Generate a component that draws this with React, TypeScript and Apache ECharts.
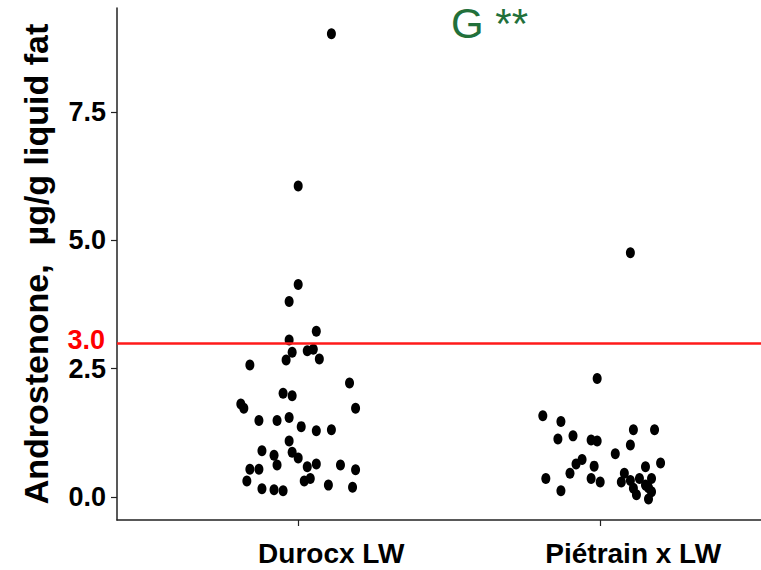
import React, { useEffect, useRef } from "react";
import * as echarts from "echarts";

// Category labels (positions 1 and 2 on the x axis)
const categories = ["Durocx LW", "Piétrain x LW"];

// Androstenone values (µg/g liquid fat)
const durocValues = [
  9.03, 6.06, 4.14, 3.81, 3.23, 3.06, 2.82, 2.85, 2.88, 2.67, 2.69, 2.57, 2.22,
  2.02, 1.97, 1.81, 1.73, 1.73, 1.49, 1.49, 1.55, 1.37, 1.29, 1.31, 1.09, 0.9,
  0.81, 0.87, 0.76, 0.54, 0.54, 0.62, 0.59, 0.64, 0.62, 0.53, 0.31, 0.16, 0.14,
  0.12, 0.31, 0.36, 0.23, 0.19,
];
// horizontal jitter (in category units) of each Duroc point
const durocJitter = [
  0.11, 0.0, 0.0, -0.03, 0.06, -0.03, -0.02, 0.03, 0.05, -0.04, 0.07, -0.16, 0.17,
  -0.05, -0.02, -0.19, -0.18, 0.19, -0.13, -0.07, -0.03, 0.01, 0.06, 0.11, -0.03,
  -0.12, -0.08, -0.02, 0.0, -0.16, -0.13, -0.07, 0.03, 0.06, 0.14, 0.19, -0.17,
  -0.12, -0.08, -0.05, 0.02, 0.04, 0.1, 0.18,
];

const pietrainValues = [
  4.76, 2.31, 1.58, 1.47, 1.13, 1.19, 1.11, 1.09, 1.31, 1.31, 1.01, 0.84, 0.73,
  0.64, 0.6, 0.46, 0.66, 0.59, 0.36, 0.36, 0.29, 0.46, 0.29, 0.32, 0.36, 0.36,
  0.17, 0.04, 0.18, -0.04, 0.1, 0.12, 0.23,
];
const pietrainJitter = [
  0.1, -0.01, -0.19, -0.13, -0.14, -0.09, -0.03, -0.01, 0.11, 0.18, 0.1, 0.05,
  -0.06, -0.08, -0.02, -0.1, 0.2, 0.15, -0.18, -0.03, 0.0, 0.08, 0.07, 0.1, 0.13,
  0.17, 0.11, 0.12, 0.16, 0.16, 0.17, -0.13, 0.15,
];

const yTicks = [0, 2.5, 5, 7.5];
const xTicks = [1, 2];
const threshold = 3.0;
const annotation = "G **";

export default function App() {
  const ref = useRef<HTMLDivElement>(null);
  useEffect(() => {
    if (!ref.current) return;
    const chart = echarts.init(ref.current, null, { renderer: "svg" });
    const pts: number[][] = [];
    durocValues.forEach((v, i) => pts.push([1 + durocJitter[i], v]));
    pietrainValues.forEach((v, i) => pts.push([2 + pietrainJitter[i], v]));

    chart.setOption({
      animation: false,
      backgroundColor: "#ffffff",
      grid: { left: 117, right: 0, top: 8, bottom: 50, containLabel: false },
      xAxis: {
        type: "value",
        min: 0.4,
        max: 2.5325,
        splitLine: { show: false },
        axisLine: { show: true, onZero: false, lineStyle: { color: "#222", width: 1.5 } },
        axisTick: {
          show: true,
          length: 6,
          customValues: xTicks,
          lineStyle: { color: "#222", width: 1.2 },
        },
        axisLabel: {
          customValues: xTicks,
          formatter: (v: number) => categories[Math.round(v) - 1] ?? "",
          fontFamily: "Liberation Sans, Arial",
          fontWeight: "bold",
          fontSize: 28,
          color: "#000",
          margin: 19,
          padding: [0, 0, 0, 66],
        },
      },
      yAxis: {
        type: "value",
        min: -0.45,
        max: 9.53,
        splitLine: { show: false },
        name: "Androstenone,  µg/g liquid fat",
        nameLocation: "middle",
        nameRotate: 90,
        nameGap: 64,
        nameTextStyle: {
          fontFamily: "Liberation Sans, Arial",
          fontWeight: "bold",
          fontSize: 34,
          color: "#000",
        },
        axisLine: { show: true, onZero: false, lineStyle: { color: "#222", width: 1.5 } },
        axisTick: {
          show: true,
          length: 6,
          customValues: yTicks,
          lineStyle: { color: "#222", width: 1.2 },
        },
        axisLabel: {
          customValues: yTicks,
          formatter: (v: number) => v.toFixed(1),
          fontFamily: "Liberation Sans, Arial",
          fontWeight: "bold",
          fontSize: 27,
          color: "#000",
          margin: 11,
        },
      },
      graphic: [
        {
          type: "text",
          left: 451,
          top: 2,
          style: {
            text: annotation,
            fontFamily: "Liberation Sans, Arial",
            fontSize: 42,
            lineHeight: 42,
            fill: "#22703a",
          },
        },
      ],
      series: [
        {
          type: "scatter",
          data: pts,
          symbol: "circle",
          symbolSize: [9, 11],
          itemStyle: { color: "#000", opacity: 1 },
          markLine: {
            silent: true,
            symbol: ["none", "none"],
            lineStyle: { color: "#ff1a1a", width: 2.5, type: "solid", opacity: 1 },
            label: {
              show: true,
              position: "start",
              distance: 12,
              formatter: threshold.toFixed(1),
              color: "#ff0000",
              fontFamily: "Liberation Sans, Arial",
              fontWeight: "bold",
              fontSize: 27,
              offset: [0, -3],
            },
            data: [{ yAxis: threshold }],
          },
        },
      ],
    });
    return () => chart.dispose();
  }, []);
  return (
    <div
      ref={ref}
      style={{ position: "fixed", left: 0, top: 0, width: 761, height: 570 }}
    />
  );
}
